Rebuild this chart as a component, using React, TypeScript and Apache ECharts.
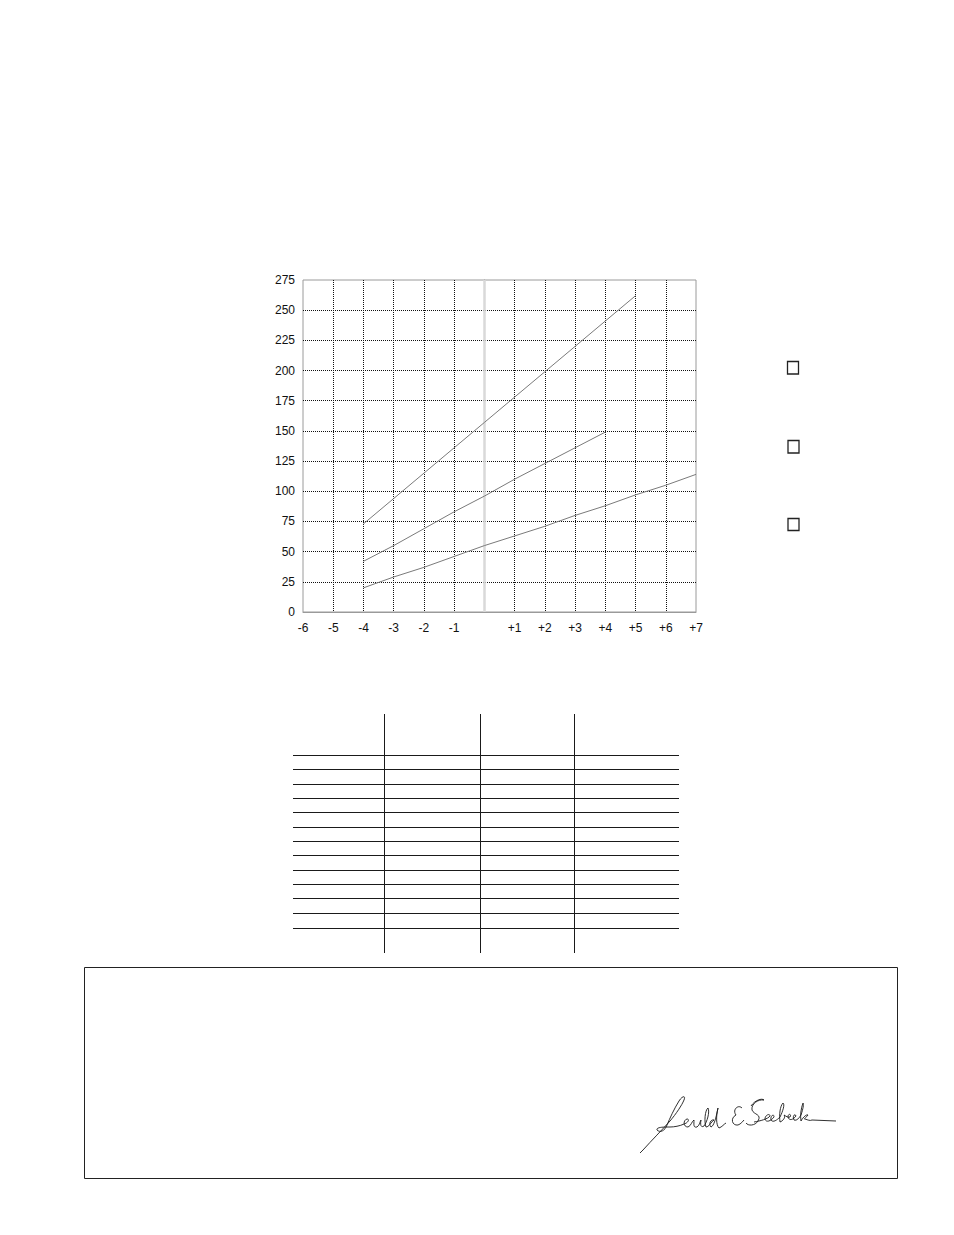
import React, { useEffect, useRef } from "react";
import * as echarts from "echarts";

// ---- data ----
const xMin = -6;
const xMax = 7;
const yMin = 0;
const yMax = 275;
const yStep = 25;

const xUpper = [-4, -3, -2, -1, 0, 1, 2, 3, 4, 5];
const valuesUpper = [73, 94, 115, 136, 157, 178, 199, 220, 241, 262];

const xMiddle = [-4, -3, -2, -1, 0, 1, 2, 3, 4];
const valuesMiddle = [42, 55, 69, 83, 96, 110, 123, 136, 149];

const xLower = [-4, -3, -2, -1, 0, 1, 2, 3, 4, 5, 6, 7];
const valuesLower = [20, 29, 37, 46, 55, 63, 71, 80, 88, 97, 105, 114];

// ---- layout (decoration) ----
const checkBoxes = [
  { x: 787.5, y: 361.5, w: 11, h: 12.5 },
  { x: 788, y: 440.5, w: 11, h: 12.5 },
  { x: 788, y: 518.5, w: 11, h: 12 },
];
const tableRows = [755, 769, 784, 798, 812, 827, 841, 855, 870, 884, 898, 913, 928];
const tableCols = [384, 480, 574];

const SIGNATURE =
  "M640 1153 L643 1150 C652 1140 662 1130 670 1121 C676 1114 682 1105 684 1100 C686 1095 682 1096 679 1101 " +
  "C674 1109 670 1118 667 1125 C665 1131 660 1133 657 1130 C656 1127 664 1127 670 1127 " +
  "C674 1127 680 1126 684 1124 " +
  "C688 1123 690 1119 687 1119 C683 1120 683 1127 688 1127 C691 1126 692 1121 694 1120 " +
  "C694 1124 693 1128 697 1127 C700 1125 700 1121 701 1120 C700 1125 701 1128 704 1126 " +
  "C707 1122 710 1112 708 1108 C705 1110 704 1122 706 1127 C709 1127 711 1122 714 1120 " +
  "C711 1119 708 1124 711 1127 C714 1126 716 1118 718 1108 C716 1116 716 1125 719 1128 " +
  "C722 1127 724 1124 726 1123 " +
  "M742 1108 C738 1104 732 1110 736 1115 C730 1118 732 1126 738 1125 C741 1124 743 1121 744 1120 " +
  "M751 1106 C755 1100 762 1098 764 1100 C758 1099 751 1104 752 1110 C754 1115 762 1114 758 1121 " +
  "C755 1126 748 1126 746 1123 " +
  "M754 1122 C760 1121 768 1119 770 1116 C770 1113 765 1115 765 1119 C766 1123 771 1121 774 1117 " +
  "C774 1113 770 1116 771 1120 C773 1123 777 1120 780 1117 C783 1111 785 1104 783 1103 " +
  "C780 1106 779 1115 780 1122 C783 1121 786 1117 784 1115 C786 1116 788 1118 790 1117 " +
  "C792 1114 788 1113 788 1117 C789 1121 793 1120 796 1116 C795 1113 792 1116 794 1120 " +
  "C797 1121 799 1118 801 1115 C803 1109 804 1104 803 1103 C801 1108 800 1116 801 1121 " +
  "C803 1117 807 1114 808 1115 C806 1118 803 1119 805 1119 C808 1120 810 1121 812 1120 L836 1121";

let registered = false;

export default function App() {
  const ref = useRef<HTMLDivElement>(null);

  useEffect(() => {
    if (!ref.current) return;
    if (!registered) {
      echarts.graphic.registerShape("signature", echarts.graphic.extendPath(SIGNATURE, {}));
      registered = true;
    }
    const chart = echarts.init(ref.current, undefined, { renderer: "svg" });
    const pair = (xs: number[], ys: number[]) => xs.map((x, i) => [x, ys[i]]);
    const lineStyle = { color: "#7a7a7a", width: 1 };

    const graphics: any[] = [];
    checkBoxes.forEach((b) =>
      graphics.push({
        type: "rect",
        shape: { x: b.x, y: b.y, width: b.w, height: b.h },
        style: { fill: "none", stroke: "#222", lineWidth: 1.3 },
      })
    );
    tableRows.forEach((y) =>
      graphics.push({
        type: "line",
        shape: { x1: 293, y1: y + 0.5, x2: 679, y2: y + 0.5 },
        style: { stroke: "#1a1a1a", lineWidth: 1 },
      })
    );
    tableCols.forEach((x) =>
      graphics.push({
        type: "line",
        shape: { x1: x + 0.5, y1: 714, x2: x + 0.5, y2: 953 },
        style: { stroke: "#1a1a1a", lineWidth: 1 },
      })
    );
    graphics.push({
      type: "rect",
      shape: { x: 84.5, y: 967.5, width: 813, height: 211 },
      style: { fill: "none", stroke: "#222", lineWidth: 1 },
    });
    graphics.push({
      type: "signature",
      x: 0,
      y: 0,
      style: { fill: "none", stroke: "#1a1a1a", lineWidth: 0.9 },
    });

    chart.setOption({
      animation: false,
      backgroundColor: "#fff",
      textStyle: { fontFamily: "Liberation Sans, Arial, sans-serif" },
      grid: {
        left: 303,
        right: 258,
        top: 280,
        bottom: 623,
        show: true,
        borderColor: "#9a9a9a",
        borderWidth: 1,
        backgroundColor: "transparent",
      },
      xAxis: {
        type: "value",
        min: xMin,
        max: xMax,
        interval: 1,
        axisLine: { show: true, lineStyle: { color: "#9a9a9a" } },
        axisTick: { show: false },
        axisLabel: {
          color: "#111",
          fontSize: 12,
          margin: 10,
          formatter: (v: number) => (v === 0 ? "" : v > 0 ? "+" + v : String(v)),
        },
        splitLine: {
          show: true,
          showMinLine: false,
          showMaxLine: false,
          lineStyle: { color: "#111", type: "dotted", width: 1 },
        },
      },
      yAxis: {
        type: "value",
        min: yMin,
        max: yMax,
        interval: yStep,
        axisLine: { show: true, lineStyle: { color: "#9a9a9a" } },
        axisTick: { show: false },
        axisLabel: { color: "#111", fontSize: 12, margin: 8 },
        splitLine: {
          show: true,
          showMinLine: false,
          showMaxLine: false,
          lineStyle: { color: "#111", type: "dotted", width: 1 },
        },
      },
      series: [
        {
          type: "line",
          data: pair(xUpper, valuesUpper),
          symbol: "none",
          lineStyle,
          z: 5,
        },
        {
          type: "line",
          data: pair(xMiddle, valuesMiddle),
          symbol: "none",
          lineStyle,
          z: 5,
        },
        {
          type: "line",
          data: pair(xLower, valuesLower),
          symbol: "none",
          lineStyle,
          z: 5,
          markLine: {
            silent: true,
            symbol: "none",
            label: { show: false },
            lineStyle: { color: "#d9d9d9", width: 2.5, type: "solid" },
            data: [{ xAxis: 0 }],
            z: 3,
          },
        },
      ],
      graphic: graphics,
    });
    return () => chart.dispose();
  }, []);

  return (
    <div
      ref={ref}
      style={{ position: "absolute", left: 0, top: 0, width: 954, height: 1235 }}
    />
  );
}
